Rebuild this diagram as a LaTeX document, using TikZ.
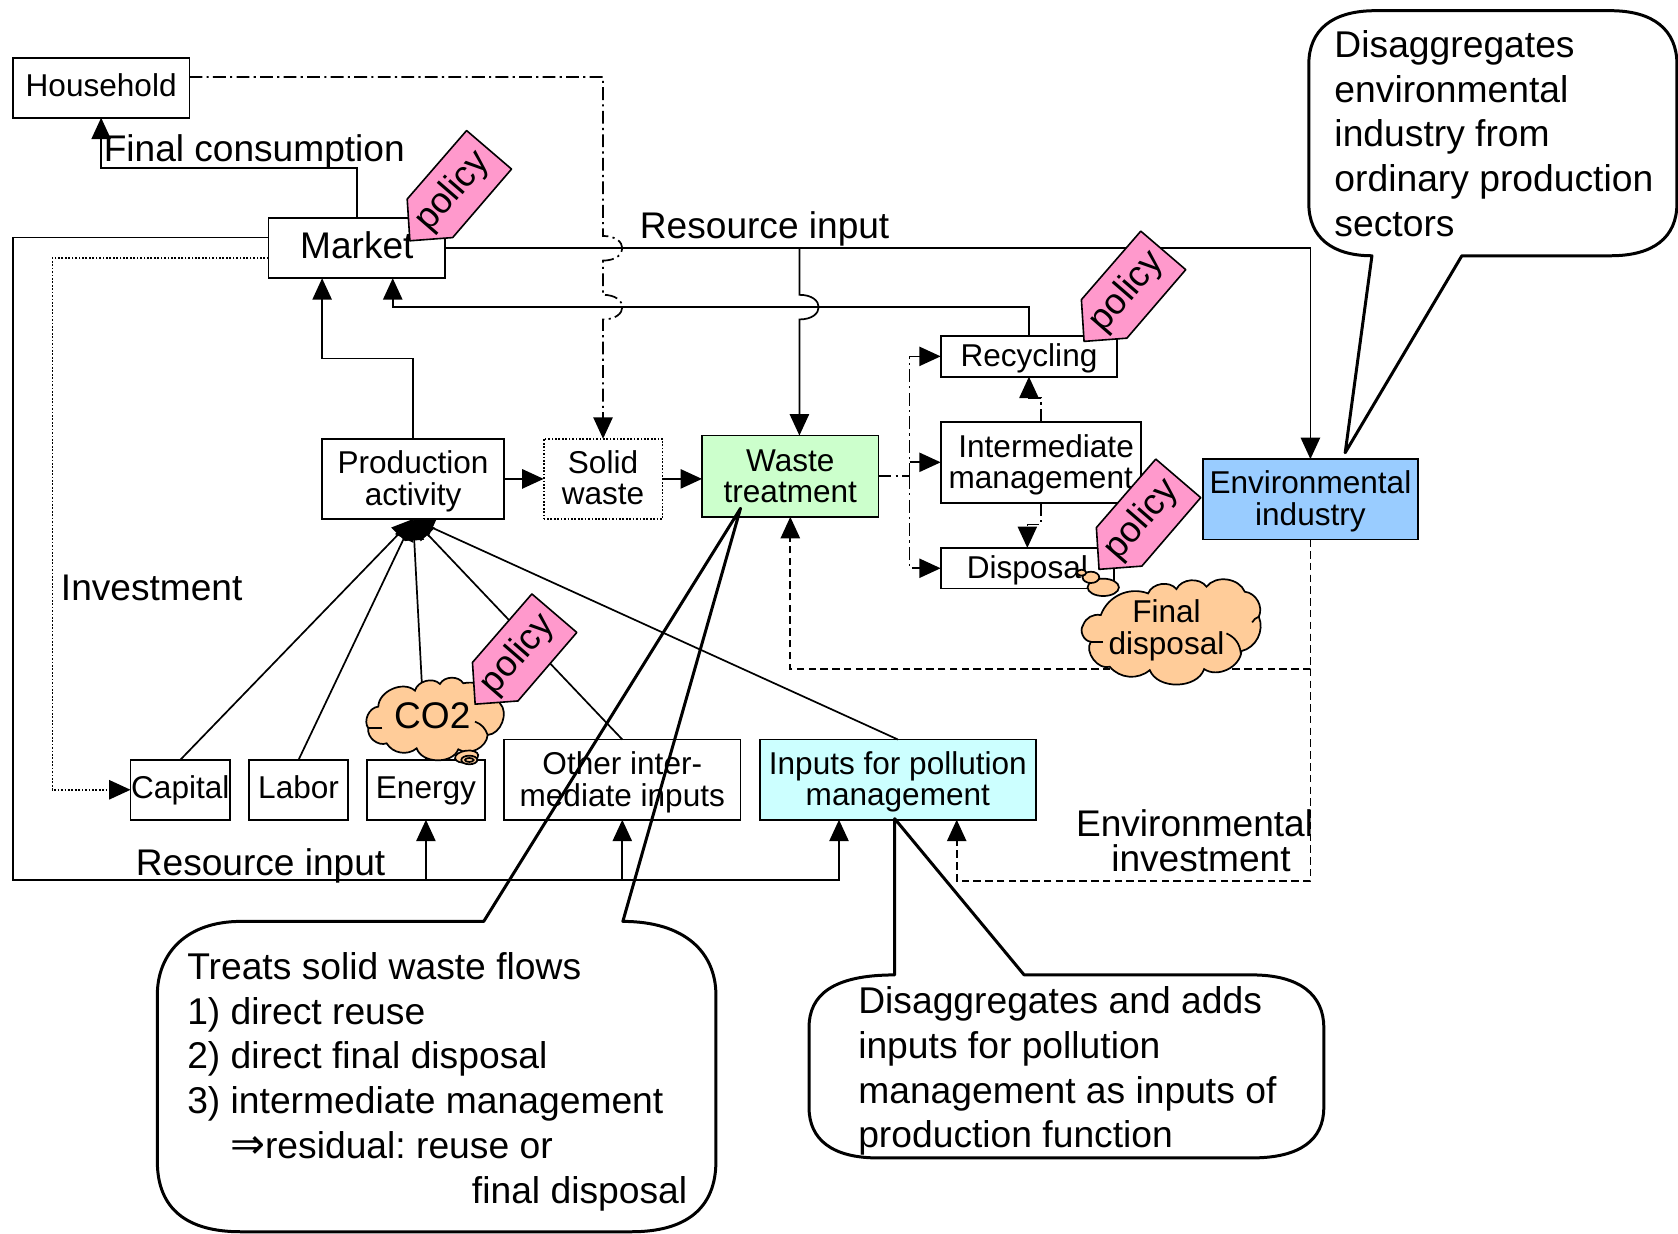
\documentclass[tikz,border=0pt]{standalone}
\usepackage{fontspec}
\setmainfont{Liberation Sans}
\newfontfamily\symfont{DejaVu Sans}
\usetikzlibrary{arrows.meta,calc}
\frenchspacing
\newcommand\fsS{\fontsize{29.5}{29}\selectfont}
\newcommand\fsL{\fontsize{34.65}{41.8}\selectfont}
\newcommand\fsC{\fontsize{34.8}{41.8}\selectfont}
\newcommand\lifted[2]{\raisebox{#1}[\height][\depth]{\begin{tabular}{@{}c@{}}#2\end{tabular}}}
\definecolor{wastegreen}{HTML}{CCFFCC}
\definecolor{envblue}{HTML}{99CCFF}
\definecolor{inputcyan}{HTML}{CCFFFF}
\definecolor{cloudorange}{HTML}{FFCC99}
\definecolor{policypink}{HTML}{FF99CC}
\tikzset{
  boxn/.style={draw=black,line width=1.6pt,fill=white,inner sep=0pt,outer sep=0pt,align=center,font=\fsS},
  conn/.style={line width=1.6pt},
  arr/.style={conn,-{Triangle[length=20pt,width=18pt]}},
  dashdot/.style={dash pattern=on 12pt off 4pt on 2pt off 4pt},
  dotline/.style={dash pattern=on 1.6pt off 1.6pt},
  dashline/.style={dash pattern=on 7pt off 4pt},
  calloutshape/.style={draw=black,line width=2.8pt,line join=round},
  cloudshape/.style={draw=black,line width=1.6pt,fill=cloudorange},
  free/.style={inner sep=0pt,outer sep=0pt},
  policytag/.style={draw=black,line width=1.5pt,fill=policypink,line join=round},
  policytext/.style={inner sep=0pt,rotate=49,font=\fontsize{34}{40}\selectfont},
}
\newcommand\policyat[2]{%
  \begin{scope}[shift={(#1)}]
    \draw[policytag] (0,0) -- (-2.5,-39) -- (53,-103) -- (95,-67) -- (40,-3) -- cycle;
    \node[policytext] (#2) at (40,-46) {policy};
  \end{scope}}
\begin{document}
\begin{tikzpicture}[x=1pt,y=-1pt]
\useasboundingbox (0,0) rectangle (1568,1153);
\fill[white] (0,0) rectangle (1568,1153);

% nodes
\node[boxn,minimum width=165pt,minimum height=56pt] (household) at (94.5,82) {\lifted{-2pt}{Household}};
\node[boxn,minimum width=165pt,minimum height=56pt,font=\fsL] (market) at (333.5,232) {\lifted{-1pt}{Market}};
\node[boxn,minimum width=170pt,minimum height=75pt] (prod) at (386,447.5) {\lifted{-3.5pt}{Production\\activity}};
\node[boxn,dotline,minimum width=111pt,minimum height=75pt] (solid) at (563.5,447.5) {\lifted{-3pt}{Solid\\waste}};
\node[boxn,fill=wastegreen,minimum width=165pt,minimum height=76pt] (waste) at (738.5,445) {Waste\\treatment};
\node[boxn,minimum width=165pt,minimum height=38pt] (recycling) at (961.5,333) {\lifted{-3pt}{Recycling}};
\node[boxn,minimum width=187pt,minimum height=76pt] (inter) at (972.5,432) {\lifted{-3.5pt}{\hspace*{10pt}Intermediate\\management}};
\node[boxn,minimum width=162pt,minimum height=38pt] (disposal) at (960,531) {\lifted{-3pt}{Disposal}};
\node[boxn,fill=envblue,minimum width=201pt,minimum height=75pt] (env) at (1224.5,466.5) {\lifted{-3pt}{Environmental\\industry}};
\node[boxn,minimum width=93pt,minimum height=56pt] (capital) at (168.5,738) {\lifted{-2pt}{Capital}};
\node[boxn,minimum width=92pt,minimum height=56pt] (labor) at (279,738) {\lifted{-2pt}{Labor}};
\node[boxn,minimum width=110pt,minimum height=56pt] (energy) at (398,738) {\lifted{-2pt}{Energy}};
\node[boxn,minimum width=221pt,minimum height=75pt] (other) at (581.5,728.5) {\lifted{-3.5pt}{Other inter-\\mediate inputs}};
\node[boxn,fill=inputcyan,minimum width=258pt,minimum height=75pt] (inputs) at (839,728.5) {\lifted{-3pt}{Inputs for pollution\\management}};

% helper points
\coordinate (busL) at (12,822);
\coordinate (hopA) at (solid.north |- market.east);
\coordinate (hopB) at (solid.north |- 0,287);
\coordinate (drop) at ([xshift=8.5pt]waste.north |- market.east);
\coordinate (hopC) at (drop |- hopB);
\coordinate (split) at (850,445);

% connectors
\draw[arr] (market.north) -- ++(0,-47) -| (household.south);
\draw[arr] ([yshift=10pt]market.west) -- (12,222) -- (busL) -| ([xshift=-55pt]inputs.south);
\draw[arr] (energy.south |- busL) -- (energy.south);
\draw[arr] (other.south |- busL) -- (other.south);
\draw[conn,dotline] ([yshift=-9pt]market.west) -- (49,241) -- (49,738) -- ([xshift=-19pt]capital.west);
\draw[arr] ([xshift=-20pt]capital.west) -- (capital.west);
\draw[arr] (market.east) -| (env.north);
\draw[arr] (drop) -- ([yshift=11.5pt]hopC) .. controls +(24,0) and +(24,0) .. ([yshift=-11.5pt]hopC) -- ([xshift=8.5pt]waste.north);
\draw[arr] (recycling.north) -- ++(0,-27) -| ([xshift=33.5pt]market.south);
\draw[arr] (prod.north) -- ++(0,-75) -| ([xshift=-32.5pt]market.south);
\draw[arr,dashdot] (household.east |- 0,72) -| ([yshift=11.5pt]hopA) .. controls +(24,0) and +(24,0) .. ([yshift=-11.5pt]hopA) -- ([yshift=11.5pt]hopB) .. controls +(24,0) and +(24,0) .. ([yshift=-11.5pt]hopB) -- (solid.north);
\draw[arr] (prod.east) -- (solid.west);
\draw[arr] (solid.east) -- ([yshift=-2.5pt]waste.west);
\draw[conn,dashdot] (waste.east) -- (split);
\draw[arr,dashdot] (split) |- (recycling.west);
\draw[arr,dashdot] (split) |- (disposal.west);
\draw[arr,dashdot] (split |- inter.west) -- (inter.west);
\draw[arr,dashdot] (inter.north) -- ++(0,-22) -| (recycling.south);
\draw[arr,dashdot] (inter.south) -- ++(0,20) -| (disposal.north);
\draw[arr,dashline] (env.south) |- (waste.south |- 0,625) -- (waste.south);
\draw[arr,dashline] (env.south) -- (env.south |- 0,823) -| ([xshift=55pt]inputs.south);
\draw[arr] (capital.north) -- (prod.south);
\draw[arr] (labor.north) -- (prod.south);
\draw[arr] (energy.north) -- (prod.south);
\draw[arr] (other.north) -- (prod.south);
\draw[arr] (inputs.north) -- (prod.south);

% final-disposal cloud
\begin{scope}[shift={(995.1,523.3)},x=0.3115pt,y=-0.3115pt]
  \begin{scope}[xshift=3pt,yshift=1.5pt]
  \draw[cloudshape] (98,170) to[bend left=45] (240,105) to[bend left=60] (325,92) to[bend left=60] (415,85)
    to[bend left=60] (530,100) to[bend left=55] (572,175) to[bend left=50] (520,278) to[bend left=60] (408,332)
    to[bend left=70] (245,335) to[bend left=45] (125,325) to[bend left=70] (68,250) to[bend left=60] (45,200) to[bend left=40] cycle;
  \draw[cloudshape,fill=none] (552,192) to[bend left=20] (572,175);
  \draw[cloudshape,fill=none] (475,225) to[bend left=30] (518,285);
  \draw[cloudshape,fill=none] (105,250) -- (68,250);
  \end{scope}
  \draw[cloudshape] (115,82) ellipse [x radius=47,y radius=26];
  \draw[cloudshape] (78,52) ellipse [x radius=25,y radius=17];
  \draw[cloudshape] (50,38) ellipse [x radius=14,y radius=9];
\end{scope}
\node[free,align=center,font=\fsS] (finaltext) at (1090,589) {Final\\disposal};

% CO2 cloud
\begin{scope}[shift={(331.7,616.7)},x=0.3115pt,y=-0.3115pt]
  \draw[cloudshape] (70,140) to[bend left=65] (180,92) to[bend left=60] (255,72) to[bend left=60] (325,70)
    to[bend left=40] (435,130) to[bend left=65] (398,225) to[bend left=60] (310,268) to[bend left=70] (185,265)
    to[bend left=50] (95,250) to[bend left=60] (40,205) to[bend left=60] cycle;
  \draw[cloudshape,fill=none] (360,185) to[bend left=25] (398,225);
  \draw[cloudshape,fill=none] (82,205) -- (40,205);
  \draw[cloudshape,rotate around={8:(335,290)}] (335,290) ellipse [x radius=35,y radius=18];
  \draw[cloudshape] (343,300) ellipse [x radius=24,y radius=13];
  \draw[cloudshape] (343,300) ellipse [x radius=13,y radius=6];
\end{scope}
\node[free,font=\fsL] (co2text) at (404,669) {CO2};

% policy tags
\policyat{383,225}{policyA}
\policyat{1013,319}{policyB}
\policyat{1027,532}{policyC}
\policyat{444,658}{policyD}

% free labels
\node[free,font=\fsL,anchor=west] (lfinal) at (97,142) {Final consumption};
\node[free,font=\fsL,anchor=west] (lres1) at (598,214) {Resource input};
\node[free,font=\fsL,anchor=west] (lres2) at (127,809) {Resource input};
\node[free,font=\fsL,anchor=west] (linv) at (57,549) {Investment};
\node[free,font=\fsL,anchor=east] (lenv1) at (1227,769) {Environmental};
\node[free,font=\fsL,anchor=east] (lenv2) at (1206,802) {investment};

% callouts
\draw[calloutshape] (1282,239) -- (1257,423) -- (1366,239) -- (1505,239)
  .. controls (1545,239) and (1567,222) .. (1567,190) -- (1567,60)
  .. controls (1567,28) and (1545,10) .. (1505,10) -- (1285,10)
  .. controls (1245,10) and (1223,28) .. (1223,60) -- (1223,190)
  .. controls (1223,222) and (1245,239) .. (1282,239) -- cycle;
\draw[calloutshape] (452,861) -- (692,475) -- (582,861)
  .. controls (640,861) and (669,890) .. (669,930) -- (669,1085)
  .. controls (669,1130) and (640,1151) .. (590,1151) -- (225,1151)
  .. controls (175,1151) and (147,1130) .. (147,1085) -- (147,930)
  .. controls (147,890) and (175,861) .. (225,861) -- cycle;
\draw[calloutshape] (836,911) -- (836,765) -- (957,911) -- (1170,911)
  .. controls (1215,911) and (1237,930) .. (1237,960) -- (1237,1035)
  .. controls (1237,1065) and (1215,1082) .. (1170,1082) -- (820,1082)
  .. controls (778,1082) and (756,1065) .. (756,1035) -- (756,960)
  .. controls (756,930) and (778,911) .. (836,911) -- cycle;

\node[free,font=\fsC,align=left,anchor=north west] (calloutA) at (1247,28.5) {Disaggregates\\environmental\\industry from\\ordinary production\\sectors};
\node[free,font=\fsC,align=left,anchor=north west] (calloutB) at (175,890) {Treats solid waste flows\\1) direct reuse\\2) direct final disposal\\3) intermediate management\\\hspace*{40pt}{\symfont\fontsize{39}{41.8}\selectfont ⇒}residual: reuse or\\\hspace*{266pt}final disposal};
\node[free,font=\fsC,align=left,anchor=north west] (calloutC) at (802,922) {Disaggregates and adds\\inputs for pollution\\management as inputs of\\production function};
\end{tikzpicture}
\end{document}
